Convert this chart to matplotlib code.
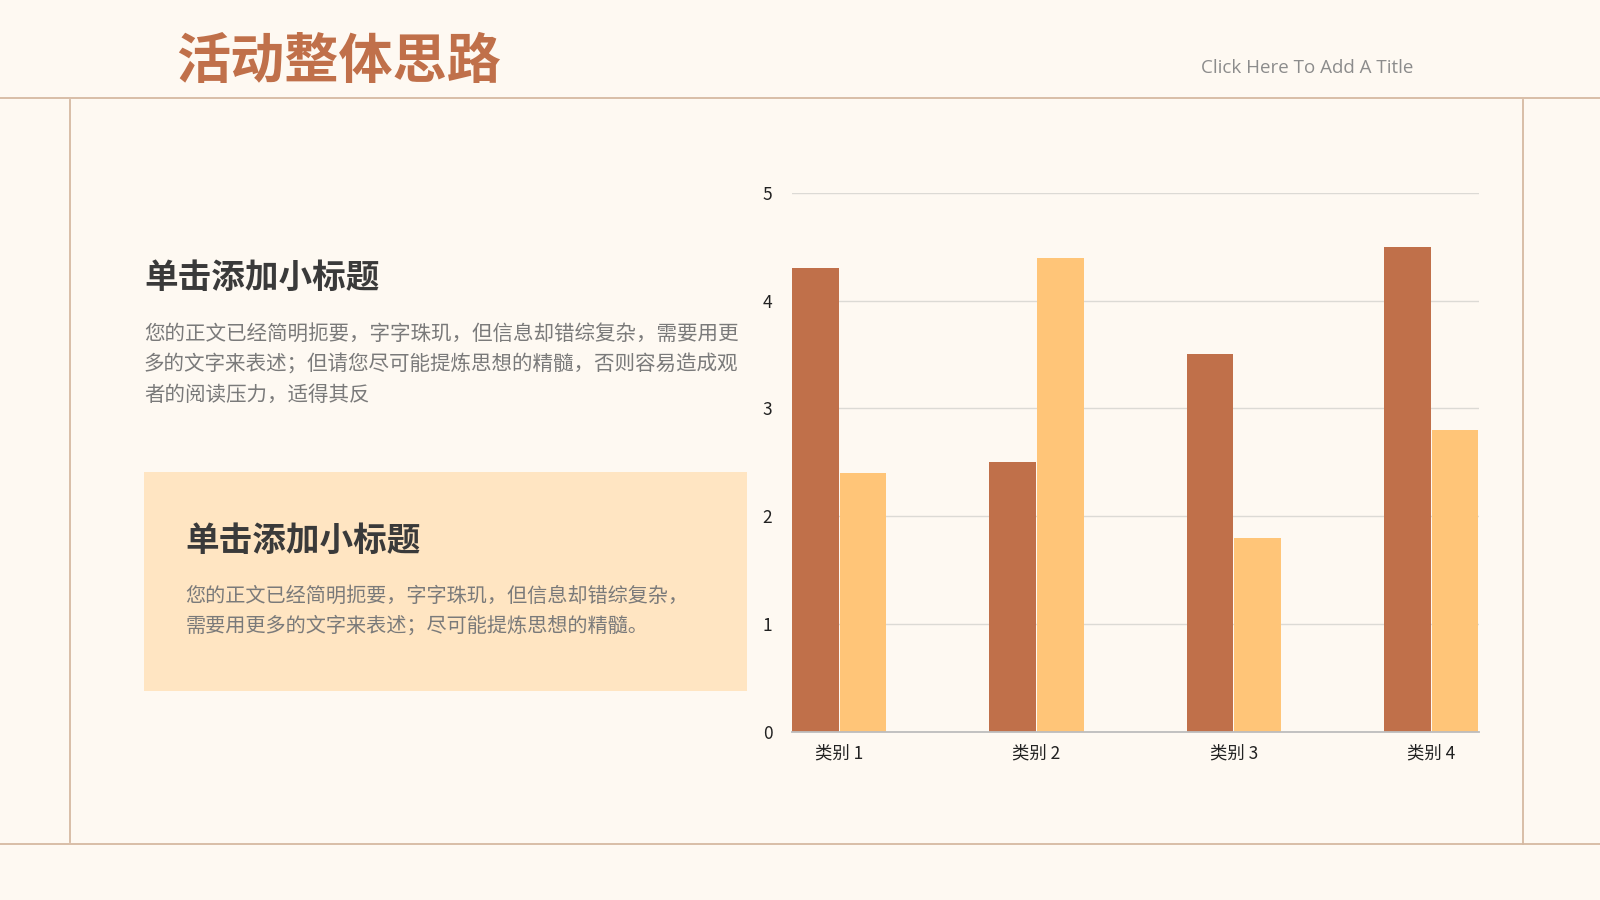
import matplotlib.pyplot as plt
from matplotlib.lines import Line2D
from matplotlib.patches import Rectangle

plt.rcParams['font.family'] = ['Noto Sans CJK SC', 'DejaVu Sans']

# data
categories = ["类别 1", "类别 2", "类别 3", "类别 4"]
series_a = [4.3, 2.5, 3.5, 4.5]
series_b = [2.4, 4.4, 1.8, 2.8]
y_ticks = [0, 1, 2, 3, 4, 5]

title = "活动整体思路"
en_title = "Click Here To Add A Title"
sub_title = "单击添加小标题"
body_1 = ["您的正文已经简明扼要，字字珠玑，但信息却错综复杂，需要用更",
          "多的文字来表述；但请您尽可能提炼思想的精髓，否则容易造成观",
          "者的阅读压力，适得其反"]
body_2 = ["您的正文已经简明扼要，字字珠玑，但信息却错综复杂，",
          "需要用更多的文字来表述；尽可能提炼思想的精髓。"]

BG = "#FEF9F2"
LINE = "#D6B9A2"
DARK = "#C0704A"
LIGHT = "#FFC578"
BOX = "#FFE5C2"

W, H = 1568, 882


def fx(x):
    return x / W


def fy(y):
    return 1 - y / H


fig = plt.figure(figsize=(16, 9), dpi=100, facecolor=BG)

# frame lines
for y in (96, 827):
    fig.add_artist(Line2D([0, 1], [fy(y), fy(y)], color=LINE, lw=1.3))
fig.add_artist(Line2D([fx(69), fx(69)], [fy(98), fy(825)], color=LINE, lw=1.3))
fig.add_artist(Line2D([fx(1493), fx(1493)], [fy(98), fy(827)], color=LINE, lw=1.3))

# header
fig.text(fx(173), fy(61), title, fontsize=39, fontweight="black", color=DARK, va="center", ha="left")
fig.text(fx(1385), fy(67), en_title, fontsize=13.5, color="#8C8C8C", va="center", ha="right",
         family=["Open Sans", "DejaVu Sans"])

# left text block
fig.text(fx(141), fy(273), sub_title, fontsize=24.2, fontweight="bold", color="#3A3A3A", va="center")
for i, line in enumerate(body_1):
    fig.text(fx(141), fy(327 + 30 * i), line, fontsize=14.8, color="#7A7A7A", va="center")

# highlighted box
fig.add_artist(Rectangle((fx(141), fy(677)), fx(732) - fx(141), fy(463) - fy(677),
                         facecolor=BOX, edgecolor="none"))
fig.text(fx(182), fy(531), sub_title, fontsize=24.2, fontweight="bold", color="#3A3A3A", va="center")
for i, line in enumerate(body_2):
    fig.text(fx(182), fy(584 + 30 * i), line, fontsize=14.5, color="#7A7A7A", va="center")

# chart
ax = fig.add_axes([fx(776), fy(717), fx(1449) - fx(776), fy(189) - fy(717)])
ax.set_facecolor("none")
x = range(len(categories))
w = 0.236
ax.bar([i - 0.121 for i in x], series_a, width=w, color=DARK, zorder=3)
ax.bar([i + 0.121 for i in x], series_b, width=w, color=LIGHT, zorder=3)
ax.set_xlim(-0.24, 3.24)
ax.set_ylim(0, 5)
ax.set_yticks(y_ticks)
ax.set_xticks(list(x))
ax.set_xticklabels(categories)
ax.grid(axis="y", color="#DCDAD5", lw=1, zorder=0)
for s in ("top", "right", "left"):
    ax.spines[s].set_visible(False)
ax.spines["bottom"].set_color("#BDBDBD")
ax.spines["bottom"].set_linewidth(1.3)
ax.spines["bottom"].set_zorder(4)
ax.tick_params(axis="both", length=0, labelsize=12.5, labelcolor="#222222")
ax.tick_params(axis="y", pad=14)
ax.tick_params(axis="x", pad=9)

fig.savefig("out.png", dpi=100, facecolor=BG)
